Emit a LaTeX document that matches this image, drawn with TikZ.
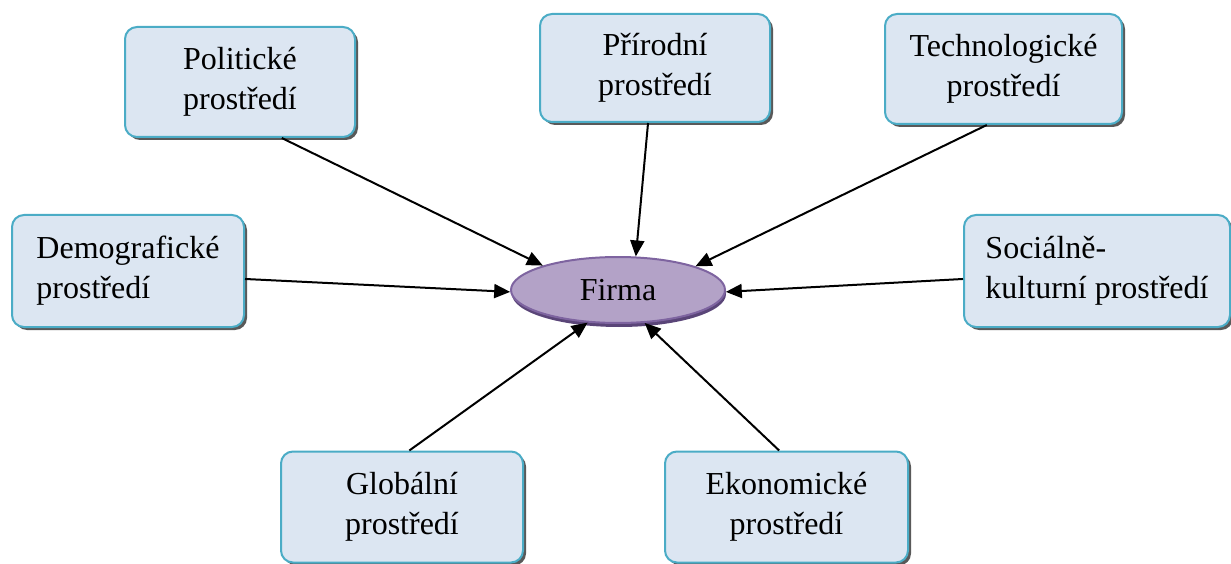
\documentclass[tikz,border=0pt]{standalone}
\usepackage{fontspec}
\setmainfont{Liberation Serif}
\usetikzlibrary{shadows,arrows.meta,shapes.geometric,calc}
\definecolor{boxfill}{HTML}{DCE6F2}
\definecolor{boxline}{HTML}{4BACC6}
\definecolor{elfill}{HTML}{B3A2C7}
\definecolor{elline}{HTML}{7E64A0}
\definecolor{elshadow}{HTML}{5A4578}
\begin{document}
\begin{tikzpicture}[x=1pt,y=-1pt,
  box/.style={draw=boxline, line width=2pt, fill=boxfill, rounded corners=12pt,
    drop shadow={shadow xshift=3pt, shadow yshift=-3pt, fill=black!65, opacity=1},
    inner sep=0pt, font=\fontsize{32}{40}\selectfont, align=center},
  firmastyle/.style={ellipse, draw=elline, line width=2pt, fill=elfill,
    drop shadow={shadow xshift=1pt, shadow yshift=-4pt, fill=elshadow, opacity=1},
    inner sep=0pt, minimum width=214pt, minimum height=66pt, font=\fontsize{32}{40}\selectfont},
  arr/.style={line width=2pt, -{Triangle[length=16pt,width=14pt]}}]
\useasboundingbox (0,0) rectangle (1231,564);
\node[box, minimum width=230pt, minimum height=110pt] (pol) at (240,82) {Politické\\prostředí};
\node[box, minimum width=230pt, minimum height=108pt] (pri) at (655,68) {Přírodní\\prostředí};
\node[box, minimum width=237pt, minimum height=110pt] (tech) at (1003.5,69) {Technologické\\prostředí};
\node[box, minimum width=232pt, minimum height=112pt, align=left] (dem) at (128,271) {Demografické\\prostředí};
\node[box, minimum width=266pt, minimum height=112pt, align=left] (soc) at (1097,271) {Sociálně-\\kulturní prostředí};
\node[box, minimum width=242pt, minimum height=111pt] (glo) at (402,507) {Globální\\prostředí};
\node[box, minimum width=243pt, minimum height=111pt] (eko) at (786.5,507) {Ekonomické\\prostředí};
\node[firmastyle] (firma) at (618,290) {Firma};
\draw[arr] ($(pol.south west)!0.68!(pol.south east)$) -- (firma.162);
\draw[arr] ($(pri.south west)!0.47!(pri.south east)$) -- (firma.62);
\draw[arr] ($(tech.south west)!0.43!(tech.south east)$) -- (firma.17);
\draw[arr] ($(dem.north east)!0.57!(dem.south east)$) -- (firma.181);
\draw[arr] ($(soc.north west)!0.57!(soc.south west)$) -- (firma.-1);
\draw[arr] ($(glo.north west)!0.53!(glo.north east)$) -- (firma.-133);
\draw[arr] ($(eko.north west)!0.47!(eko.north east)$) -- (firma.-51);
\end{tikzpicture}
\end{document}
